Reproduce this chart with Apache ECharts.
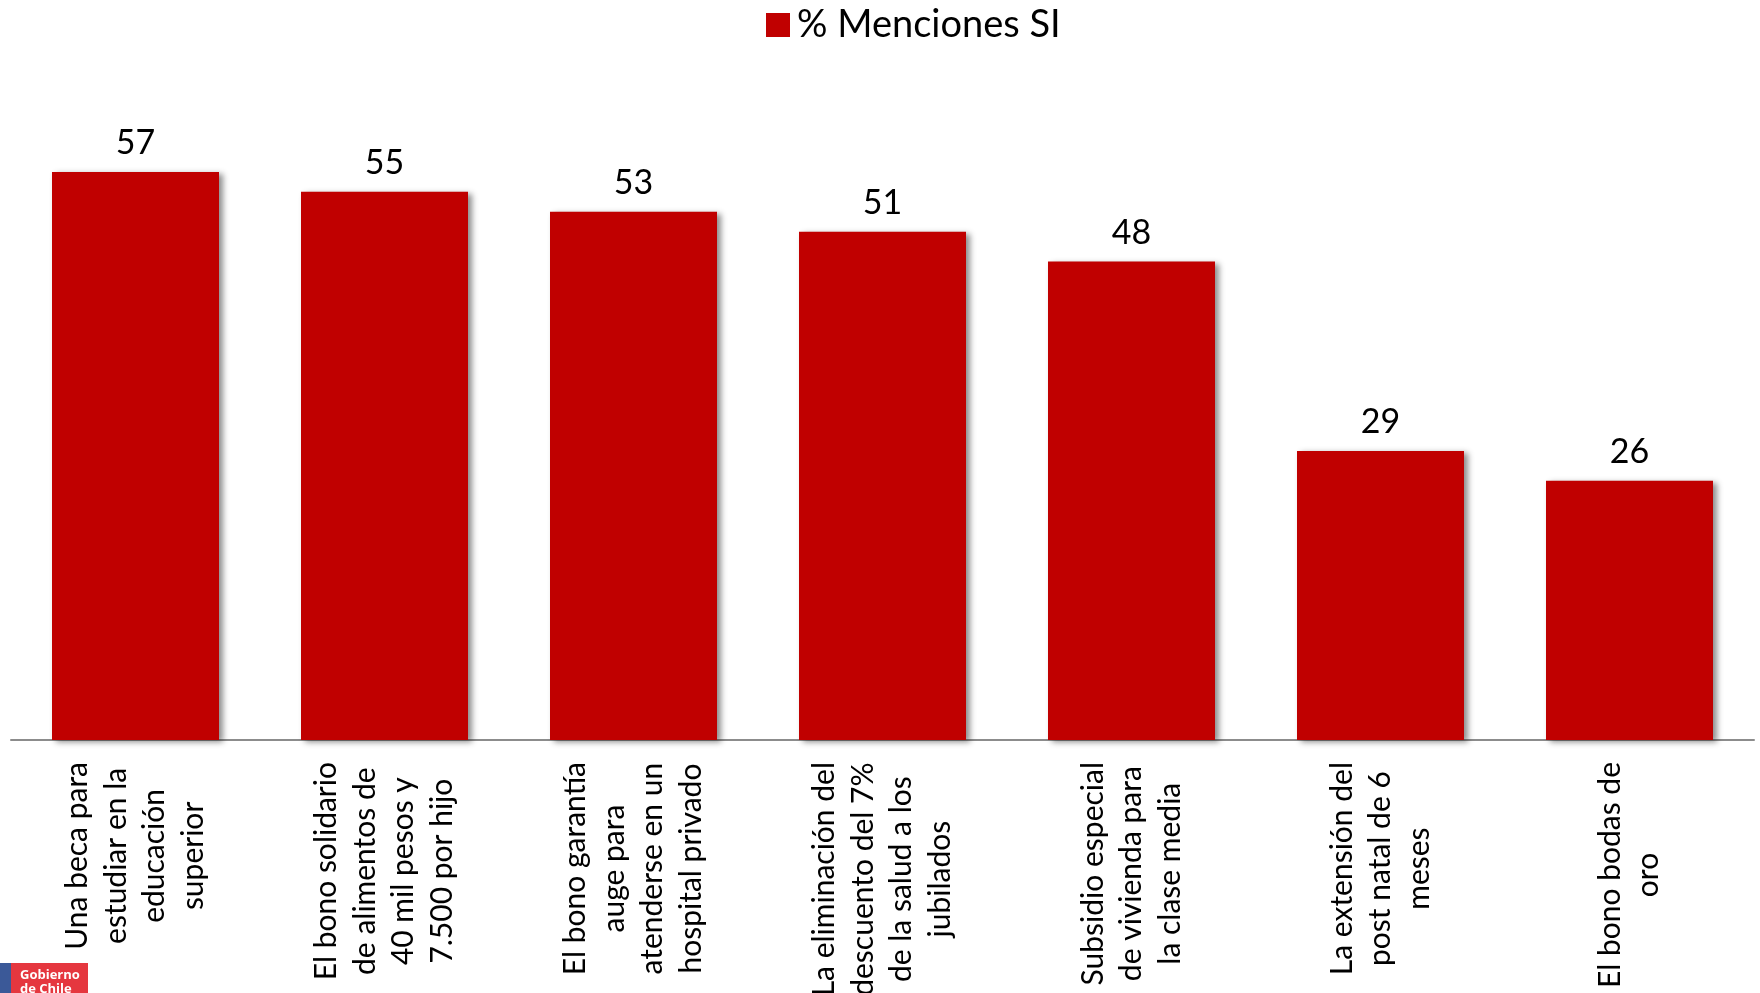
<!DOCTYPE html>
<html>
<head>
<meta charset="utf-8">
<script src="https://cdn.jsdelivr.net/npm/echarts@6/dist/echarts.min.js"></script>
<style>html,body{margin:0;padding:0;background:#fff}#c{width:1760px;height:993px}</style>
</head>
<body>
<div id="c"></div>
<script>
const categories = [
  'Una beca para\nestudiar en la\neducación\nsuperior',
  'El bono solidario\nde alimentos de\n40 mil pesos y\n7.500 por hijo',
  'El bono garantía\nauge para\natenderse en un\nhospital privado',
  'La eliminación del\ndescuento del 7%\nde la salud a los\njubilados',
  'Subsidio especial\nde vivienda para\nla clase media',
  'La extensión del\npost natal de 6\nmeses',
  'El bono bodas de\noro'
];
const seriesName = '% Menciones SI';
const values = [57, 55, 53, 51, 48, 29, 26];

const FONT = 'Lato';
const chart = echarts.init(document.getElementById('c'), null, {renderer: 'canvas'});
chart.setOption({
  animation: false,
  textStyle: {fontFamily: FONT},
  legend: {
    data: [seriesName],
    left: 761, top: 1,
    itemWidth: 24, itemHeight: 24, itemGap: 10,
    icon: 'rect',
    textStyle: {fontFamily: FONT, fontSize: 38, color: '#000', padding: [0, 0, 0, 2]}
  },
  grid: {left: 11, right: 6, top: 142, bottom: 253, containLabel: false, outerBoundsMode: 'none'},
  xAxis: {
    type: 'category',
    data: categories,
    axisLine: {lineStyle: {color: '#8c8c8c', width: 2}},
    axisTick: {show: false},
    axisLabel: {
      rotate: 90,
      interval: 0,
      margin: 22,
      color: '#000',
      fontFamily: FONT,
      fontSize: 30,
      lineHeight: 38.6,
      formatter: function (v) {
        return v.split('\n').map(function (s) { return '{c|' + s + '}'; }).join('\n');
      },
      rich: {c: {align: 'center', fontFamily: FONT, fontSize: 30, lineHeight: 38.6, color: '#000'}}
    }
  },
  yAxis: {
    type: 'value', min: 0, max: 60, interval: 10,
    show: false, splitLine: {show: false}
  },
  series: [{
    name: seriesName,
    type: 'bar',
    data: values,
    barWidth: 167,
    itemStyle: {
      color: '#C00000',
      shadowColor: 'rgba(0,0,0,0.45)',
      shadowBlur: 6,
      shadowOffsetX: 4,
      shadowOffsetY: 2
    },
    label: {
      show: true, position: 'top', distance: 12,
      fontFamily: FONT, fontSize: 34, color: '#000'
    }
  }],
  graphic: [
    {type: 'rect', left: 0, top: 963, shape: {width: 11, height: 30}, style: {fill: '#3B5998'}},
    {type: 'rect', left: 11, top: 963, shape: {width: 77, height: 30}, style: {fill: '#E5373F'}},
    {type: 'text', left: 20, top: 968, style: {text: 'Gobierno\nde Chile', fill: '#fff', font: 'bold 13px "Open Sans"', lineHeight: 14}}
  ]
});
</script>
</body>
</html>
